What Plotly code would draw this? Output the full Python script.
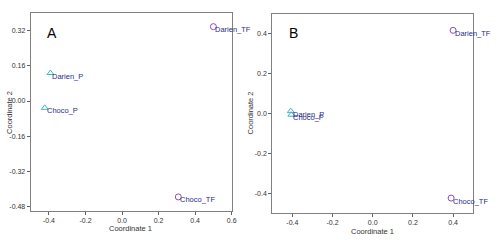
import plotly.graph_objects as go

# Panel A data
a_names = ["Darien_TF", "Choco_TF", "Darien_P", "Choco_P"]
a_x = [0.50, 0.308, -0.392, -0.423]
a_y = [0.338, -0.436, 0.127, -0.031]
# Panel B data
b_names = ["Darien_TF", "Choco_TF", "Darien_P", "Choco_P"]
b_x = [0.40, 0.39, -0.408, -0.405]
b_y = [0.418, -0.425, 0.012, -0.006]
groups = ["TF", "TF", "P", "P"]

a_xticks = [-0.4, -0.2, 0.0, 0.2, 0.4, 0.6]
a_yticks = [0.32, 0.16, 0.0, -0.16, -0.32, -0.48]
b_xticks = [-0.4, -0.2, 0.0, 0.2, 0.4]
b_yticks = [0.4, 0.2, 0.0, -0.2, -0.4]

circle_col = "#8a4cc0"
tri_col = "#3fb3d0"
label_col = "#2b2b8c"
font = "Liberation Sans, Arial, sans-serif"

fig = go.Figure()

def add_panel(xs, ys, names, xa, ya):
    for g, sym, col in [("TF", "circle-open", circle_col), ("P", "triangle-up-open", tri_col)]:
        idx = [i for i in range(len(xs)) if groups[i] == g]
        fig.add_trace(go.Scatter(
            x=[xs[i] for i in idx], y=[ys[i] for i in idx],
            mode="markers", xaxis=xa, yaxis=ya, showlegend=False,
            marker=dict(symbol=sym, size=6, color=col, line=dict(width=1, color=col)),
        ))
    for i in range(len(xs)):
        fig.add_annotation(x=xs[i], y=ys[i], xref=xa, yref=ya, text=names[i],
                           showarrow=False, xanchor="left", yanchor="middle",
                           xshift=0, yshift=-3,
                           font=dict(size=7.5, color=label_col, family=font))

add_panel(a_x, a_y, a_names, "x", "y")
add_panel(b_x, b_y, b_names, "x2", "y2")

ax_common = dict(showline=True, mirror=True, linecolor="#808080", linewidth=1,
                 ticks="outside", ticklen=3, tickcolor="#606060", showgrid=False,
                 zeroline=False, tickfont=dict(size=7, color="#333", family=font))

fig.update_layout(
    width=499, height=248, margin=dict(l=0, r=0, t=0, b=0),
    plot_bgcolor="white", paper_bgcolor="white",
    xaxis=dict(domain=[31/499, 234/499], range=[-0.5, 0.6], tickvals=a_xticks,
               ticktext=["-0.4", "-0.2", "0.0", "0.2", "0.4", "0.6"], anchor="y", **ax_common),
    yaxis=dict(domain=[1-211/248, 1-13/248], range=[-0.5, 0.4], tickvals=a_yticks,
               ticktext=["0.32", "0.16", "0.00", "-0.16", "-0.32", "-0.48"], anchor="x", **ax_common),
    xaxis2=dict(domain=[275/499, 478/499], range=[-0.5, 0.5], tickvals=b_xticks,
                ticktext=["-0.4", "-0.2", "0.0", "0.2", "0.4"], anchor="y2", **ax_common),
    yaxis2=dict(domain=[1-213/248, 1-14/248], range=[-0.5, 0.5], tickvals=b_yticks,
                ticktext=["0.4", "0.2", "0.0", "-0.2", "-0.4"], anchor="x2", **ax_common),
)

# axis titles and panel letters
for xc, yc, txt in [(132/499, 1-228/248, "Coordinate 1"), (376/499, 1-231/248, "Coordinate 1")]:
    fig.add_annotation(x=xc, y=yc, xref="paper", yref="paper", text=txt, showarrow=False,
                       xanchor="center", yanchor="middle", font=dict(size=7.5, color="#333", family=font))
for xc, yc in [(9/499, 1-112/248), (254/499, 1-113/248)]:
    fig.add_annotation(x=xc, y=yc, xref="paper", yref="paper", text="Coordinate 2", showarrow=False,
                       textangle=-90, xanchor="center", yanchor="middle",
                       font=dict(size=7.5, color="#333", family=font))
for xc, txt in [(53/499, "A"), (296/499, "B")]:
    fig.add_annotation(x=xc, y=1-33/248, xref="paper", yref="paper", text=txt, showarrow=False,
                       xanchor="center", yanchor="middle", font=dict(size=14, color="black", family=font))

fig.write_html("out.html")
